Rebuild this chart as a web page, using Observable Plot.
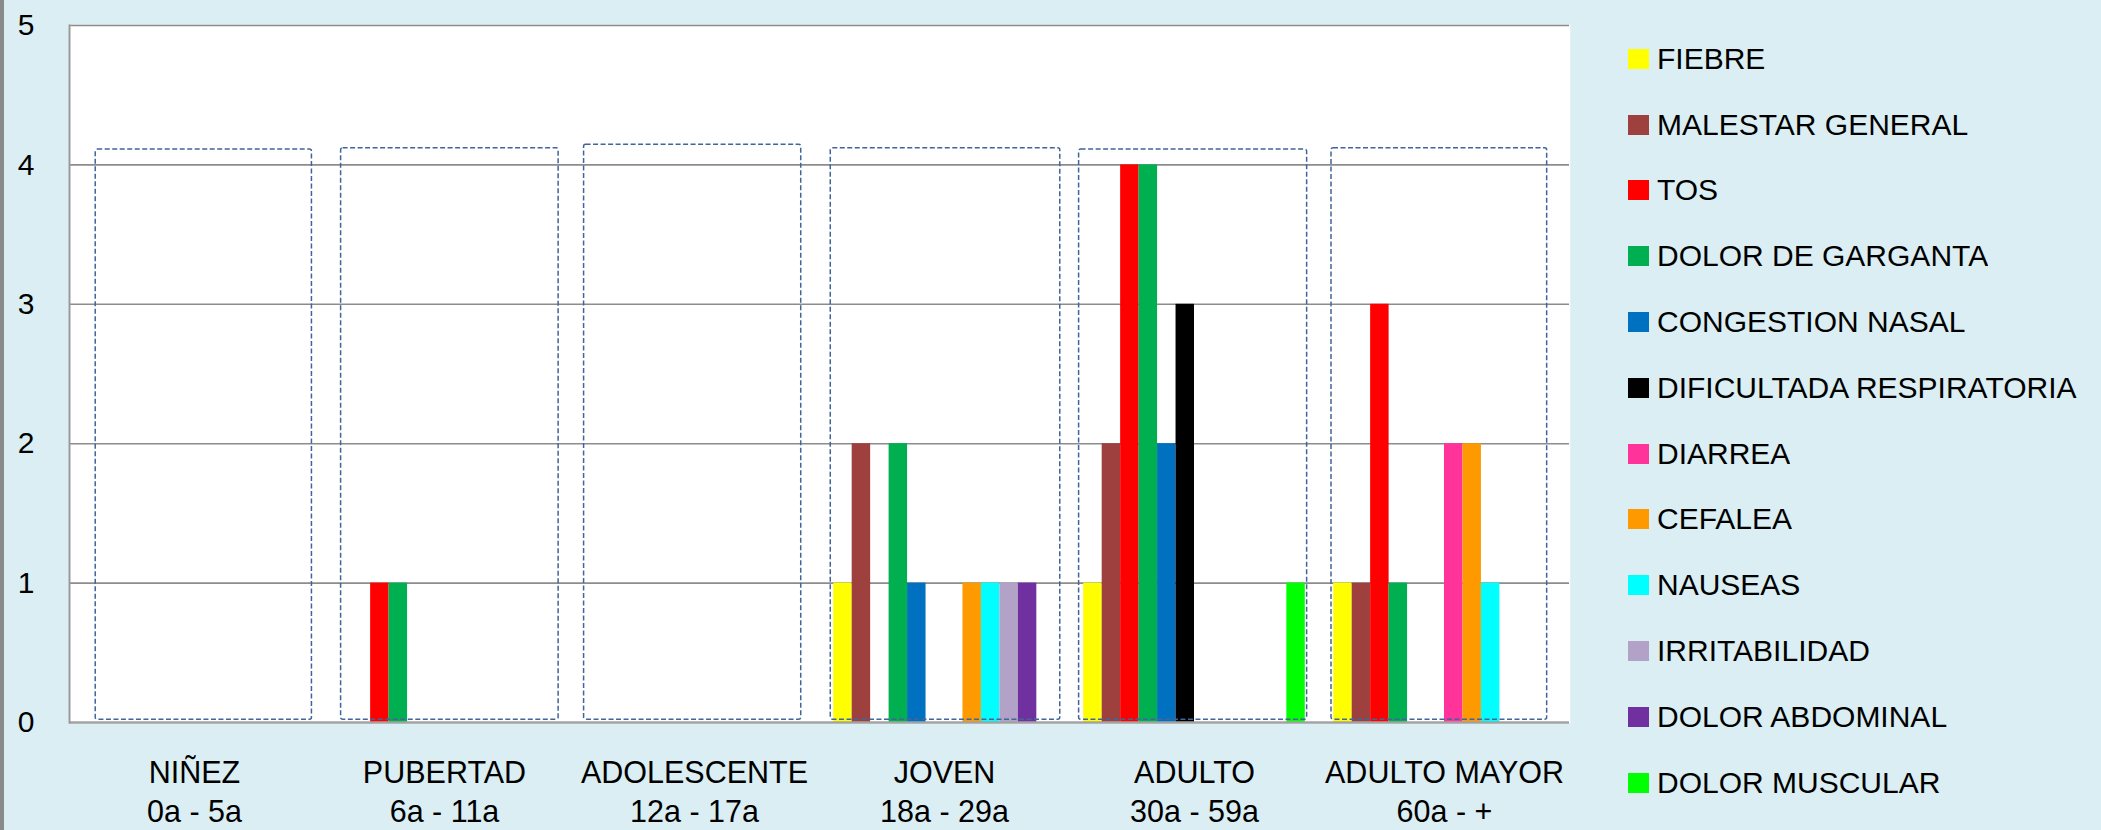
<!DOCTYPE html>
<html>
<head>
<meta charset="utf-8">
<script src="https://cdn.jsdelivr.net/npm/d3@7"></script>
<script src="https://cdn.jsdelivr.net/npm/@observablehq/plot@0.6"></script>
<style>
  html, body { margin: 0; padding: 0; background: #DAEEF3; }
  body { width: 2101px; height: 830px; overflow: hidden; position: relative; font-family: "Liberation Sans", Arial, sans-serif; }
  #strip { position: absolute; left: 0; top: 0; width: 4px; height: 830px; background: #8a8a8a; }
  #chart { position: absolute; left: 0; top: 0; }
  #legend { position: absolute; left: 1628px; top: 26px; }
  #legend .lg-swatches { font-family: "Liberation Sans", Arial, sans-serif !important; font-size: 30px !important; color: #000 !important; margin: 0 !important; min-height: 0 !important; }
  #legend .lg-swatch { height: 65.8px !important; padding: 0 !important; margin: 0 !important; display: flex !important; align-items: center !important; }
  #legend .lg-swatch > svg { margin-right: 8px !important; }
</style>
</head>
<body>
<div id="strip"></div>
<div id="chart"></div>
<div id="legend"></div>
<script>
// Categories (age groups) and their age ranges
const groups = ["NIÑEZ", "PUBERTAD", "ADOLESCENTE", "JOVEN", "ADULTO", "ADULTO MAYOR"];
const ageRanges = ["0a - 5a", "6a - 11a", "12a - 17a", "18a - 29a", "30a - 59a", "60a - +"];

// Series (symptoms) and colours
const symptoms = ["FIEBRE", "MALESTAR GENERAL", "TOS", "DOLOR DE GARGANTA", "CONGESTION NASAL",
  "DIFICULTADA RESPIRATORIA", "DIARREA", "CEFALEA", "NAUSEAS", "IRRITABILIDAD", "DOLOR ABDOMINAL", "DOLOR MUSCULAR"];
const colors = ["#FFFF00", "#9E413E", "#FF0000", "#00B050", "#0070C0", "#000000",
  "#FF3399", "#FF9900", "#00FFFF", "#B3A2C7", "#7030A0", "#00FF00"];

// Values per age group
const fiebre        = [0, 0, 0, 1, 1, 1];
const malestar      = [0, 0, 0, 2, 2, 1];
const tos           = [0, 1, 0, 0, 4, 3];
const garganta      = [0, 1, 0, 2, 4, 1];
const congestion    = [0, 0, 0, 1, 2, 0];
const dificultad    = [0, 0, 0, 0, 3, 0];
const diarrea       = [0, 0, 0, 0, 0, 2];
const cefalea       = [0, 0, 0, 1, 0, 2];
const nauseas       = [0, 0, 0, 1, 0, 1];
const irritabilidad = [0, 0, 0, 1, 0, 0];
const abdominal     = [0, 0, 0, 1, 0, 0];
const muscular      = [0, 0, 0, 0, 1, 0];

// Y ticks
const yTicks = [0, 1, 2, 3, 4, 5];

// Dashed annotation boxes around each group (in series-slot units and value units)
const boxLeft   = [0.65, 0.40, 0.02, -0.16, -0.25, -0.12];
const boxRight  = [12.36, 12.18, 11.78, 12.27, 12.10, 11.56];
const boxTop    = [4.11, 4.12, 4.145, 4.12, 4.11, 4.12];
const boxBottom = 0.02;

const series = [fiebre, malestar, tos, garganta, congestion, dificultad, diarrea, cefalea, nauseas, irritabilidad, abdominal, muscular];
const rows = [];
groups.forEach((g, gi) => series.forEach((s, si) => rows.push({group: g, symptom: symptoms[si], idx: si, value: s[gi]})));
const boxes = groups.map((g, i) => ({group: g, left: boxLeft[i], right: boxRight[i], top: boxTop[i]}));

const outer = 0.77;
const font = '"Liberation Sans", Arial, sans-serif';

const chart = Plot.plot({
  width: 1580,
  height: 830,
  marginLeft: 68,
  marginRight: 10,
  marginTop: 25,
  marginBottom: 108,
  style: {background: "transparent", fontFamily: font, fontSize: "30px", color: "#000", overflow: "visible"},
  fx: {domain: groups, padding: 0, label: null, axis: null},
  x: {domain: [-outer, symptoms.length + outer], axis: null},
  y: {domain: [0, 5], axis: null},
  color: {domain: symptoms, range: colors},
  marks: [
    Plot.frame({fill: "white", stroke: "white", strokeWidth: 1.5}),
    Plot.gridY(yTicks.filter(t => t > 0), {stroke: "#8c8c8c", strokeOpacity: 1, strokeWidth: 1.6}),
    Plot.rect(rows, {fx: "group", x1: "idx", x2: d => d.idx + 1, y1: 0, y2: "value", fill: "symptom"}),
    Plot.rect(boxes, {fx: "group", x1: "left", x2: "right", y1: boxBottom, y2: "top",
      fill: "none", stroke: "#41659a", strokeWidth: 1.5, strokeDasharray: "5,2.5", rx: 2}),
    Plot.ruleY([0], {stroke: "#a3a3a3", strokeWidth: 2.5}),
    Plot.frame({anchor: "left", facetAnchor: "left", stroke: "#999", strokeWidth: 2}),
    Plot.axisY({ticks: yTicks, tickSize: 0, tickPadding: 35, anchor: "left", fontSize: 30, fill: "#000", tickFormat: d => String(d)}),
    Plot.axisFx({anchor: "bottom", tickSize: 0, tickPadding: 32, lineHeight: 1.3, fontSize: 30.5, fill: "#000",
      tickFormat: d => d + "\n" + ageRanges[groups.indexOf(d)]})
  ]
});
document.getElementById("chart").appendChild(chart);

const legend = Plot.legend({
  legend: "swatches",
  color: {domain: symptoms, range: colors},
  columns: 1,
  swatchWidth: 21,
  swatchHeight: 20,
  className: "lg"
});
document.getElementById("legend").appendChild(legend);
</script>
</body>
</html>
